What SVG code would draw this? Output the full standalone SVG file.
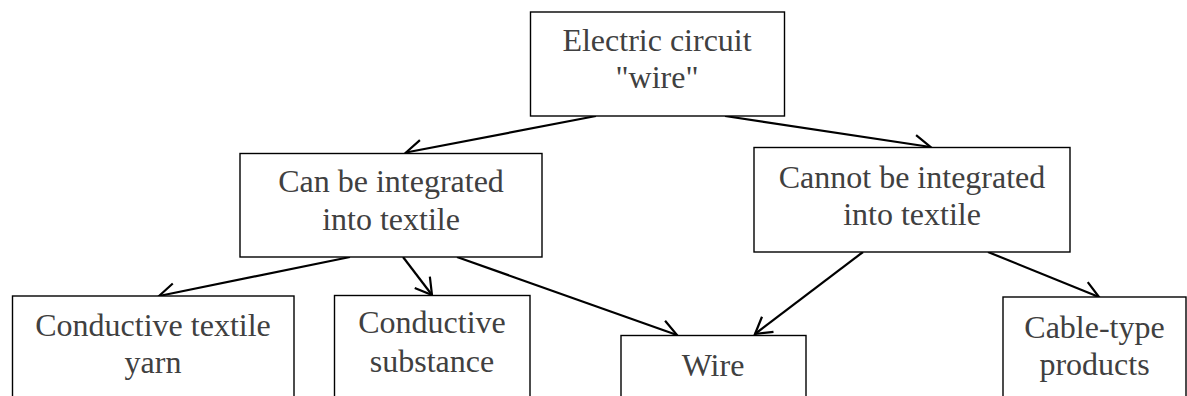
<svg xmlns="http://www.w3.org/2000/svg" width="1187" height="396" viewBox="0 0 1187 396">
<style>
.box{fill:#fff;stroke:#000;stroke-width:1.4}
.t{font-family:"Liberation Serif","Times New Roman",serif;font-size:32px;fill:#404040;text-anchor:middle}
.c{stroke:#000;stroke-width:2.2;fill:none}
</style>
<defs>
<marker id="ah" markerUnits="userSpaceOnUse" orient="auto" refX="19" refY="11" markerWidth="22" markerHeight="22" viewBox="0 0 22 22" overflow="visible">
<path d="M3,1.5 L19,11 L3,20.5" fill="none" stroke="#000" stroke-width="2.2"/>
</marker>
</defs>
<rect width="1187" height="396" fill="#fff"/>
<g id="connectors">
<line class="c" x1="596" y1="116" x2="406" y2="152.5" marker-end="url(#ah)"/>
<line class="c" x1="725" y1="116" x2="930.5" y2="147" marker-end="url(#ah)"/>
<line class="c" x1="350" y1="257" x2="159" y2="296" marker-end="url(#ah)"/>
<line class="c" x1="403" y1="257" x2="432" y2="295" marker-end="url(#ah)"/>
<line class="c" x1="457" y1="257" x2="677" y2="335" marker-end="url(#ah)"/>
<line class="c" x1="863" y1="252" x2="755" y2="334" marker-end="url(#ah)"/>
<line class="c" x1="988" y1="252" x2="1099" y2="297" marker-end="url(#ah)"/>
</g>
<g id="n-electric">
<rect class="box" x="530.5" y="12" width="254" height="104"/>
<text class="t" x="657" y="50.5">Electric circuit</text>
<text class="t" x="657" y="87.5">"wire"</text>
</g>
<g id="n-can">
<rect class="box" x="240" y="153.5" width="302" height="103.5"/>
<text class="t" x="391" y="192">Can be integrated</text>
<text class="t" x="391" y="230">into textile</text>
</g>
<g id="n-cannot">
<rect class="box" x="754" y="147.5" width="316" height="104.5"/>
<text class="t" x="912" y="187.5">Cannot be integrated</text>
<text class="t" x="912" y="225">into textile</text>
</g>
<g id="n-yarn">
<rect class="box" x="12.5" y="296" width="281.5" height="120"/>
<text class="t" x="153" y="336">Conductive textile</text>
<text class="t" x="153" y="373">yarn</text>
</g>
<g id="n-substance">
<rect class="box" x="334.5" y="295.5" width="195.5" height="120"/>
<text class="t" x="432" y="333">Conductive</text>
<text class="t" x="432" y="371.5">substance</text>
</g>
<g id="n-wire">
<rect class="box" x="621" y="335.5" width="185" height="80"/>
<text class="t" x="713" y="375.5">Wire</text>
</g>
<g id="n-cable">
<rect class="box" x="1003" y="297" width="183" height="120"/>
<text class="t" x="1094.5" y="337.5">Cable-type</text>
<text class="t" x="1094.5" y="375">products</text>
</g>
</svg>
